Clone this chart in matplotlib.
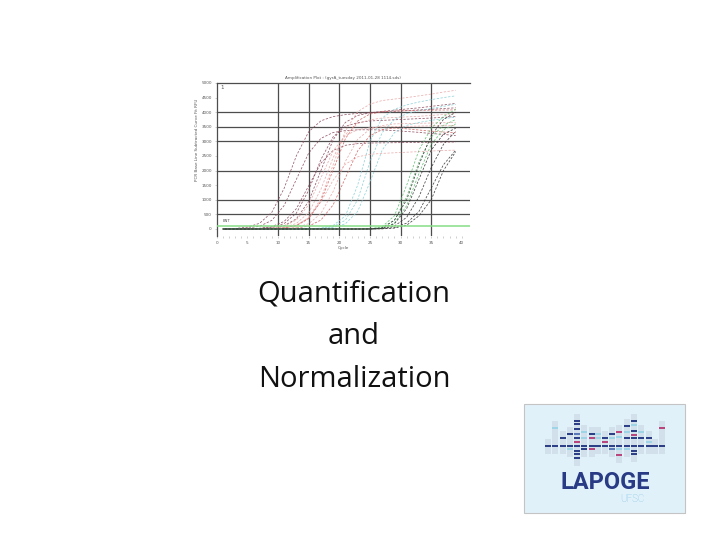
#!/usr/bin/env python3
"""Slide: qPCR amplification plot, title text and LAPOGE logo."""

import matplotlib
matplotlib.use('Agg')
import matplotlib.pyplot as plt
from matplotlib.patches import Rectangle

W, H = 720, 540

# cycles at which each curve is sampled
CYCLES = [1, 3, 5, 7, 9, 11, 13, 15, 17, 19, 21, 23, 25, 27, 29, 31, 33, 35, 37, 39]

MAROON_CURVES = [
    [6, 20, 62, 195, 573, 1392, 2508, 3327, 3705, 3850, 3916, 3960, 3985, 4010, 4030, 4055, 4080, 4100, 4125, 4150],
    [3, 10, 30, 95, 296, 802, 1700, 2598, 3104, 3305, 3370, 3395, 3400, 3390, 3370, 3340, 3310, 3270, 3240, 3200],
    [1, 2, 8, 26, 83, 257, 696, 1475, 2254, 2693, 2867, 2923, 2945, 2950, 2955, 2960, 2965, 2970, 2975, 2980],
    [0, 1, 6, 19, 59, 185, 544, 1321, 2379, 3156, 3515, 3641, 3700, 3720, 3740, 3760, 3780, 3800, 3825, 3850],
    [0, 1, 3, 11, 36, 112, 348, 944, 2000, 3056, 3652, 3888, 3980, 4030, 4070, 4110, 4150, 4200, 4250, 4300],
]
PINK_CURVES = [
    [0, 1, 3, 9, 31, 98, 305, 826, 1750, 2674, 3196, 3402, 3469, 3495, 3505, 3515, 3525, 3535, 3545, 3550],
    [0, 0, 2, 6, 19, 61, 190, 559, 1357, 2443, 3241, 3610, 3739, 3800, 3820, 3840, 3860, 3890, 3920, 3950],
    [0, 0, 1, 4, 12, 39, 123, 383, 1038, 2200, 3362, 4017, 4277, 4400, 4450, 4500, 4560, 4620, 4690, 4750],
    [0, 0, 0, 2, 5, 18, 58, 180, 529, 1285, 2315, 3071, 3420, 3542, 3600, 3610, 3620, 3630, 3640, 3650],
    [0, 0, 1, 4, 13, 42, 130, 382, 928, 1672, 2218, 2470, 2558, 2590, 2610, 2630, 2650, 2670, 2690, 2700],
]
RED_CURVES = [
    [0, 0, 1, 4, 11, 36, 113, 352, 956, 2025, 3094, 3698, 3937, 4013, 4040, 4050, 4060, 4070, 4075, 4080],
    [0, 0, 0, 1, 3, 10, 31, 98, 305, 826, 1750, 2674, 3196, 3402, 3460, 3430, 3390, 3350, 3320, 3300],
]
CYAN_CURVES = [
    [0, 0, 0, 0, 0, 1, 3, 8, 30, 120, 450, 1500, 3000, 3800, 4100, 4250, 4350, 4430, 4500, 4560],
    [0, 0, 0, 0, 0, 0, 2, 5, 20, 80, 300, 1000, 2300, 3300, 3750, 3950, 4050, 4130, 4200, 4270],
    [0, 0, 0, 0, 0, 0, 1, 3, 12, 50, 180, 600, 1600, 2700, 3300, 3550, 3650, 3720, 3780, 3830],
]
GREEN_CURVES = [
    [0, 0, 0, 0, 0, 0, 0, 0, 0, 0, 0, 0, 10, 80, 450, 1500, 2700, 3450, 3850, 4100],
    [0, 0, 0, 0, 0, 0, 0, 0, 0, 0, 0, 0, 5, 50, 300, 1100, 2300, 3150, 3550, 3750],
    [0, 0, 0, 0, 0, 0, 0, 0, 0, 0, 0, 0, 3, 30, 200, 800, 1900, 2900, 3400, 3600],
]
BLACK_CURVES = [
    [0, 0, 0, 0, 0, 0, 0, 0, 0, 0, 0, 0, 0, 40, 300, 1000, 2200, 3200, 3750, 4000],
    [0, 0, 0, 0, 0, 0, 0, 0, 0, 0, 0, 0, 0, 25, 180, 700, 1700, 2700, 3250, 3450],
    [0, 0, 0, 0, 0, 0, 0, 0, 0, 0, 0, 0, 0, 15, 100, 400, 1100, 2100, 2900, 3350],
    [0, 0, 0, 0, 0, 0, 0, 0, 0, 0, 0, 0, 0, 10, 50, 200, 600, 1400, 2200, 2700],
    [0, 0, 0, 0, 0, 0, 0, 0, 0, 0, 0, 0, 0, 5, 30, 130, 450, 1000, 2000, 2650],
]
THRESHOLD = 100

X_TICKS = [0, 5, 10, 15, 20, 25, 30, 35, 40]
Y_TICKS = [0, 500, 1000, 1500, 2000, 2500, 3000, 3500, 4000, 4500, 5000]
V_GRID = [10, 15, 20, 25, 30, 35]
H_GRID = [500, 1000, 2000, 3000, 3500, 4000]

TITLE_LINES = ["Quantification", "and", "Normalization"]

# logo bands: (band y, colour key) per column, logo pixel units
LOGO_COLUMNS = [25, 32, 40, 47, 54, 61, 69, 75, 82, 89, 96, 104, 111, 118, 126, 132, 139]
LOGO_BANDS = [
    [(42.7, 'n')],
    [(25.3, 'l'), (42.7, 'n')],
    [(35.3, 'n'), (42.7, 'n')],
    [(31.0, 'n'), (42.7, 'n'), (46.0, 'l')],
    [(17.7, 'n'), (21.0, 'n'), (26.0, 'n'), (31.0, 'm'), (35.3, 'n'), (38.7, 'p'),
     (42.7, 'n'), (47.7, 'n'), (51.0, 'n'), (55.3, 'n')],
    [(28.7, 'l'), (35.3, 'l'), (42.7, 'n'), (46.0, 'n')],
    [(31.0, 'n'), (35.3, 'p'), (42.7, 'n'), (46.0, 'p')],
    [(31.0, 'l'), (35.3, 'l'), (42.7, 'n')],
    [(35.3, 'n'), (39.3, 'p'), (42.7, 'n')],
    [(31.0, 'n'), (35.3, 'l'), (42.7, 'n'), (46.0, 'm')],
    [(28.7, 'p'), (34.3, 'l'), (42.7, 'n'), (46.0, 'l'), (52.0, 'p')],
    [(23.3, 'n'), (29.3, 'l'), (35.3, 'n'), (42.7, 'n'), (46.0, 'l')],
    [(17.7, 'n'), (22.0, 'l'), (27.7, 'n'), (32.0, 'p'), (35.3, 'n'), (42.7, 'n'),
     (47.7, 'n'), (51.0, 'n')],
    [(28.7, 'l'), (35.3, 'n'), (42.7, 'n')],
    [(35.3, 'n'), (38.7, 'l'), (42.7, 'n')],
    [(42.7, 'n')],
    [(25.3, 'p'), (42.7, 'n')],
]
BAND_COLORS = {'n': '#2d3f86', 'm': '#5a78b8', 'l': '#9fd3e6', 'p': '#b8457c'}


def draw_curves(ax, curves, color, offset):
    for i, vals in enumerate(curves):
        ax.plot(CYCLES, vals, color=color, lw=0.55, alpha=0.9,
                linestyle=(offset + i * 1.3, (3.0, 2.0)), zorder=3)


def draw_plot(fig):
    left, right = 216.7, 469.8
    top, bottom = 83.0, 236.3
    ax = fig.add_axes([left / W, 1 - bottom / H, (right - left) / W, (bottom - top) / H])
    ax.set_xlim(0, 41.3)
    ax.set_ylim(-250, 5000)

    for x in V_GRID:
        ax.axvline(x, color='#4d4d4d', lw=0.9, zorder=1)
    for y in H_GRID:
        ax.axhline(y, color='#4d4d4d', lw=0.9, zorder=1)

    draw_curves(ax, MAROON_CURVES, '#8a4a5c', 0)
    draw_curves(ax, PINK_CURVES, '#e8a6a6', 1)
    draw_curves(ax, RED_CURVES, '#d06060', 2)
    draw_curves(ax, CYAN_CURVES, '#86cfd6', 0.5)
    draw_curves(ax, GREEN_CURVES, '#58bd6c', 1.5)
    draw_curves(ax, BLACK_CURVES, '#333333', 2.5)

    ax.axhline(THRESHOLD, color='#86dc86', lw=1.1, zorder=4)
    ax.text(0.9, 215, 'ENT', fontsize=2.8, color='#555555', va='bottom')
    ax.text(0.6, 4830, '1', fontsize=4, color='#555555', va='center')

    for s in ['right', 'bottom']:
        ax.spines[s].set_visible(False)
    for s in ['left', 'top']:
        ax.spines[s].set_color('#4d4d4d')
        ax.spines[s].set_linewidth(0.9)

    ax.set_xticks(X_TICKS)
    ax.set_xticks(range(0, 41), minor=True)
    ax.set_yticks(Y_TICKS)
    ax.tick_params(axis='both', which='both', labelsize=3, colors='#bbbbbb',
                   labelcolor='#555555', length=1.5, width=0.5, pad=2)
    ax.tick_params(axis='x', which='minor', length=1.2)

    ax.set_title('Amplification Plot : (gyrA_tuesday 2011-01-28 1114.sds)',
                 fontsize=3, color='#555555', pad=3)
    ax.set_xlabel('Cycle', fontsize=3, color='#555555', labelpad=0.5)
    fig.text(197 / W, 1 - 140 / H, 'PCR Base Line Subtracted Curve Fit RFU',
             rotation=90, fontsize=3, color='#555555', ha='center', va='center')


def draw_logo(fig):
    x0, y0, w, h = 523, 403, 164, 112
    ax = fig.add_axes([x0 / W, 1 - (y0 + h) / H, w / W, h / H])
    ax.set_xlim(0, w)
    ax.set_ylim(h, 0)
    ax.axis('off')

    ax.add_patch(Rectangle((2, 2), w - 3, h - 3, facecolor='#b5b5b5', edgecolor='none'))
    ax.add_patch(Rectangle((0.5, 0.5), w - 3, h - 3, facecolor='#e1f1fa',
                           edgecolor='#c4c4c4', lw=0.8))

    for cx, bands in zip(LOGO_COLUMNS, LOGO_BANDS):
        ys = [b[0] for b in bands]
        top = min(ys) - 7
        bot = max(ys) + 8
        ax.add_patch(Rectangle((cx - 2.6, top), 5.2, bot - top,
                               facecolor='#c5d2e0', alpha=0.55, edgecolor='none'))
        for y, key in bands:
            ax.add_patch(Rectangle((cx - 2.6, y - 1.0), 5.2, 2.0,
                                   facecolor=BAND_COLORS[key], edgecolor='none'))

    ax.text(82, 86, 'LAPOGE', fontsize=17, fontweight='bold', family='Roboto',
            color='#283b84', ha='center', va='baseline')
    ax.text(109, 99.5, 'UFSC', fontsize=7, family='Roboto', fontweight='light',
            color='#7dc3e3', ha='center', va='baseline')


def main():
    fig = plt.figure(figsize=(7.2, 5.4), dpi=100)
    fig.patch.set_facecolor('white')

    draw_plot(fig)

    baselines = [301, 344, 387]
    for line, yb in zip(TITLE_LINES, baselines):
        fig.text(354 / W, 1 - yb / H, line, fontsize=21, family='Open Sans',
                 color='#111111', ha='center', va='baseline')

    draw_logo(fig)

    fig.savefig('out.png', dpi=100, facecolor='white')
    plt.close(fig)


if __name__ == '__main__':
    main()
